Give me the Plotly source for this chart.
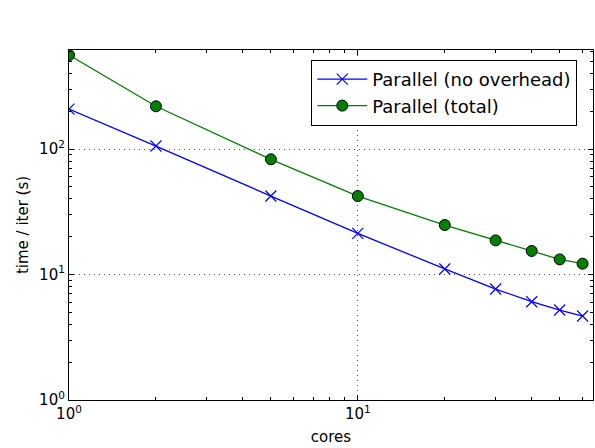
import plotly.graph_objects as go
import math

cores = [1, 2, 5, 10, 20, 30, 40, 50, 60]
no_overhead = [208, 105.6, 42.2, 21.3, 11.07, 7.66, 6.07, 5.21, 4.67]
total = [561, 219, 82.8, 42.2, 24.8, 18.7, 15.4, 13.2, 12.2]

x_tickvals = [1, 10]
x_ticktext = ["10<sup>0</sup>", "10<sup>1</sup>"]
y_tickvals = [1, 10, 100]
y_ticktext = ["10<sup>0</sup>", "10<sup>1</sup>", "10<sup>2</sup>"]

font = "DejaVu Sans"

fig = go.Figure()
fig.add_trace(go.Scatter(
    x=cores, y=no_overhead, mode="lines+markers", name="Parallel (no overhead)",
    line=dict(color="#0000ff", width=1.3),
    marker=dict(symbol="x-thin", size=11, line=dict(color="#0000ff", width=1.2), color="#0000ff"),
))
fig.add_trace(go.Scatter(
    x=cores, y=total, mode="lines+markers", name="Parallel (total)",
    line=dict(color="#008000", width=1.3),
    marker=dict(symbol="circle", size=11, color="#008000", line=dict(color="black", width=1)),
))

x_minor = [v * d for d in (1, 10) for v in range(2, 10) if v * d < 66]
y_minor = [v * d for d in (1, 10, 100) for v in range(2, 10) if v * d < 620]

axis_common = dict(
    type="log", showline=True, linecolor="black", linewidth=1.2, mirror="ticks",
    ticks="inside", ticklen=5, tickcolor="black", tickwidth=1,
    showgrid=True, gridcolor="#555", griddash="1px,4px", gridwidth=1.2,
    zeroline=False, tickfont=dict(family=font, size=15, color="black"),
    title_font=dict(family=font, size=15, color="black"),
)

fig.update_xaxes(
    **axis_common, range=[0, math.log10(65.2)],
    tickmode="array", tickvals=x_tickvals, ticktext=x_ticktext,
    minor=dict(ticks="inside", ticklen=2.5, tickcolor="black", tickvals=x_minor, showgrid=False),
    title=dict(text="cores", standoff=9),
)
fig.update_yaxes(
    **axis_common, range=[0, 2.789],
    tickmode="array", tickvals=y_tickvals, ticktext=y_ticktext,
    minor=dict(ticks="inside", ticklen=2.5, tickcolor="black", tickvals=y_minor, showgrid=False),
    title=dict(text="time / iter (s)", standoff=6),
)

fig.update_layout(
    width=595, height=448,
    margin=dict(l=69, r=2, t=50, b=48),
    plot_bgcolor="white", paper_bgcolor="white",
    font=dict(family=font, color="black"),
    legend=dict(
        x=0.462, y=0.972, xanchor="left", yanchor="top",
        bgcolor="white", bordercolor="black", borderwidth=1.2,
        font=dict(family=font, size=18, color="black"),
        itemwidth=50,
    ),
)

fig.write_html("out.html")
